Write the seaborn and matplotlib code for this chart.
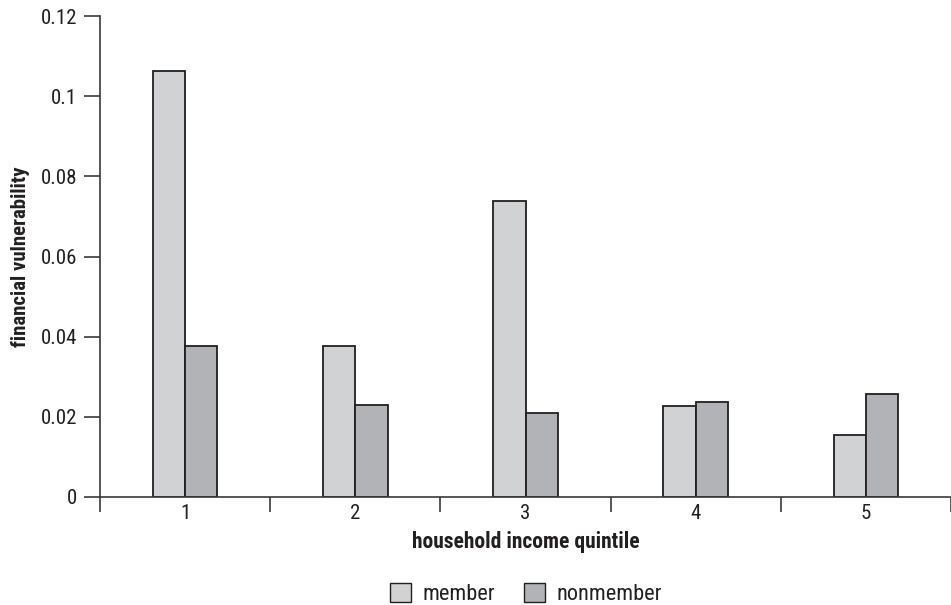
import matplotlib
matplotlib.use("Agg")
import matplotlib.pyplot as plt
import seaborn as sns
import pandas as pd
import numpy as np
from matplotlib.patches import Patch

quintiles = ["1", "2", "3", "4", "5"]
member = [0.1064, 0.0376, 0.0738, 0.0228, 0.0154]
nonmember = [0.0376, 0.0230, 0.0209, 0.0238, 0.0257]
groups = ["member", "nonmember"]
yticks = [0, 0.02, 0.04, 0.06, 0.08, 0.1, 0.12]
yticklabels = ["0", "0.02", "0.04", "0.06", "0.08", "0.1", "0.12"]

df = pd.DataFrame({
    "quintile": quintiles * 2,
    "value": member + nonmember,
    "group": [groups[0]] * 5 + [groups[1]] * 5,
})

sns.set_theme(style="white")
plt.rcParams["font.family"] = ["Roboto Condensed", "DejaVu Sans"]
plt.rcParams["text.color"] = "#231f20"
plt.rcParams["axes.labelcolor"] = "#231f20"
plt.rcParams["xtick.color"] = "#231f20"
plt.rcParams["ytick.color"] = "#231f20"

fig = plt.figure(figsize=(9.51, 6.05), dpi=100)
ax = fig.add_axes([100 / 951, 1 - 497 / 605, 1 - 100 / 951, (497 - 16) / 605])

palette = {"member": "#d1d2d4", "nonmember": "#b1b3b6"}
sns.barplot(data=df, x="quintile", y="value", hue="group", order=quintiles,
            hue_order=groups, palette=palette, width=0.38, saturation=1,
            edgecolor="#231f20", linewidth=1.3, ax=ax, legend=False)

ax.set_xlim(-0.5, 4.5)
ax.set_ylim(0, 0.12)
ax.set_yticks(yticks)
ax.set_yticklabels(yticklabels, fontsize=15)
ax.set_xticks(range(5))
ax.set_xticklabels(quintiles, fontsize=15)
ax.set_xticks(np.arange(-0.5, 5, 1), minor=True)
ax.tick_params(axis="x", which="major", length=0, pad=5)
ax.tick_params(axis="x", which="minor", direction="out", length=11,
               width=1.2, color="#3a3a3a", bottom=True)
ax.tick_params(axis="y", which="major", direction="out", length=11.5,
               width=1.2, color="#3a3a3a", left=True, pad=5)

for s in ["top", "right"]:
    ax.spines[s].set_visible(False)
for s in ["left", "bottom"]:
    ax.spines[s].set_color("#3a3a3a")
    ax.spines[s].set_linewidth(1.2)

ax.set_xlabel("household income quintile", fontsize=15.5, fontweight="bold", labelpad=6)
ax.set_ylabel("financial vulnerability", fontsize=15, fontweight="bold")
ax.yaxis.set_label_coords(-0.082, 0.5)

handles = [Patch(facecolor=palette[g], edgecolor="#231f20", linewidth=1.0, label=g) for g in groups]
fig.legend(handles=handles, loc="center", bbox_to_anchor=(0.553, 0.018), ncol=2,
           frameon=False, fontsize=16, handlelength=0.95, handleheight=0.95,
           columnspacing=1.3, handletextpad=0.5)

fig.savefig("out.png", dpi=100)
